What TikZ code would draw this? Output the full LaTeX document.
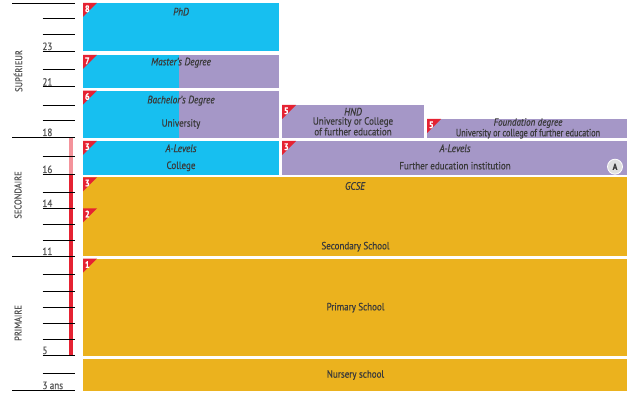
\documentclass[tikz,border=0pt]{standalone}
\usepackage{fontspec}
\setmainfont[FakeStretch=0.86,FakeBold=0.5]{PT Sans}
\newfontfamily\narrowfont[FakeStretch=0.78,FakeBold=0.5]{PT Sans}
\definecolor{cblue}{HTML}{17BFF0}
\definecolor{cpurple}{HTML}{A597C7}
\definecolor{corange}{HTML}{EBB21E}
\definecolor{cred}{HTML}{E52232}
\definecolor{cpink}{HTML}{F4939B}
\definecolor{ctext}{HTML}{3A3A3A}
\definecolor{caxis}{HTML}{555555}
\newcommand\mkbadge[3]{%
  \fill[cred] (#1) -- ++(14,0) -- ++(-14,14) -- cycle;
  \node[badgenum] (#3) at ([shift={(4.3,5.8)}]#1) {#2};}
\begin{document}
\begin{tikzpicture}[x=1pt,y=-1pt,
  blk/.style={inner sep=0, outer sep=0, anchor=north west, draw=none},
  lbl/.style={inner sep=0, text=ctext, font=\fontsize{10.5}{11}\selectfont, align=center},
  ilbl/.style={lbl, font=\fontsize{10.8}{11}\selectfont\itshape},
  badgenum/.style={inner sep=0, text=white, font=\fontsize{9.5}{10}\selectfont\bfseries},
  tick/.style={line width=0.9pt, black},
  axnum/.style={inner sep=0, text=caxis, font=\fontsize{10.5}{10}\selectfont, anchor=base west},
  sect/.style={inner sep=0, text=caxis, font=\fontsize{9.8}{10}\selectfont, rotate=90}]
\useasboundingbox (0,0) rectangle (627,398);
% ---- axis ----
\fill[cpink] (69,137) rectangle (73,174);
\fill[cred] (69,174) rectangle (73,355.5);
\foreach \yy in {3.3,137,256,390} \draw[tick] (12,\yy) -- (75,\yy);
\foreach \yy in {18.3,34,51,69,86.7,105,120,156,174,192,208,224,240,274,291,307,323,339,355,373}
  \draw[tick] (42.7,\yy) -- (75,\yy);
\foreach \yy/\tt in {50/23,85.7/21,136/18,173/16,207/14,255/11,354/5,389/3 ans}
  \node[axnum] at (42.3,\yy) {\tt};
\node[sect] (sup) at (18,71) {SUPÉRIEUR};
\node[sect] (sec) at (18,195) {SECONDAIRE};
\node[sect] (pri) at (18,323) {PRIMAIRE};
% ---- boxes ----
\node[blk, fill=cblue, minimum width=196pt, minimum height=47.7pt] (phd) at (83,3) {};
\node[blk, fill=cpurple, minimum width=196pt, minimum height=33pt] (mas) at (83,55) {};
\fill[cblue] (mas.north west) rectangle (179,88);
\node[blk, fill=cpurple, minimum width=196pt, minimum height=47pt] (bac) at (83,90.7) {};
\fill[cblue] (bac.north west) rectangle (179,137.7);
\node[blk, fill=cblue, minimum width=196pt, minimum height=34pt] (col) at (83,141) {};
\node[blk, fill=cpurple, minimum width=142pt, minimum height=33pt] (hnd) at (282,105) {};
\node[blk, fill=cpurple, minimum width=200pt, minimum height=19pt] (fdn) at (427,119) {};
\node[blk, fill=cpurple, minimum width=345pt, minimum height=34pt] (fe) at (282,141) {};
\node[blk, fill=corange, minimum width=544pt, minimum height=78.4pt] (secb) at (83,177.3) {};
\node[blk, fill=corange, minimum width=544pt, minimum height=97pt] (prim) at (83,258.7) {};
\node[blk, fill=corange, minimum width=544pt, minimum height=31.7pt] (nur) at (83,359) {};
% ---- texts ----
\node[ilbl] (t1) at (181,11.7) {PhD};
\node[ilbl] (t2) at (181,62.7) {Master’s Degree};
\node[ilbl] (t3) at (181,100.7) {Bachelor’s Degree};
\node[lbl] (t4) at (181,124) {University};
\node[ilbl] (t5) at (181,148.3) {A-Levels};
\node[lbl] (t6) at (181,166.3) {College};
\node[ilbl] (t7) at (353,111.7) {HND};
\node[lbl, font=\fontsize{10.5}{9.6}\selectfont] (t8) at (353,126.3) {University or College\\of further education};
\node[lbl, font=\fontsize{10.5}{8}\selectfont] (t9) at (528,128.4)
  {{\itshape Foundation degree}\\{\narrowfont University or college of further education}};
\node[ilbl] (t11) at (455,148.3) {A-Levels};
\node[lbl] (t12) at (455,165.7) {Further education institution};
\node[ilbl] (t13) at (355,186) {GCSE};
\node[lbl] (t14) at (355.5,246.7) {Secondary School};
\node[lbl] (t15) at (355.5,307.7) {Primary School};
\node[lbl] (t16) at (355.5,375) {Nursery school};
\node[circle, fill=black!12, draw=white, line width=0.8pt, minimum size=15pt, inner sep=0,
      text=ctext, font=\fontsize{9}{9}\selectfont\bfseries] (circA) at (615,166.7) {A};
% ---- badges ----
\mkbadge{phd.north west}{8}{b8}
\mkbadge{mas.north west}{7}{b7}
\mkbadge{bac.north west}{6}{b6}
\mkbadge{col.north west}{3}{b3a}
\mkbadge{hnd.north west}{5}{b5a}
\mkbadge{fdn.north west}{5}{b5b}
\mkbadge{fe.north west}{3}{b3b}
\mkbadge{secb.north west}{3}{b3c}
\coordinate (two) at (83,208.3);
\mkbadge{two}{2}{b2}
\mkbadge{prim.north west}{1}{b1}
\end{tikzpicture}
\end{document}
